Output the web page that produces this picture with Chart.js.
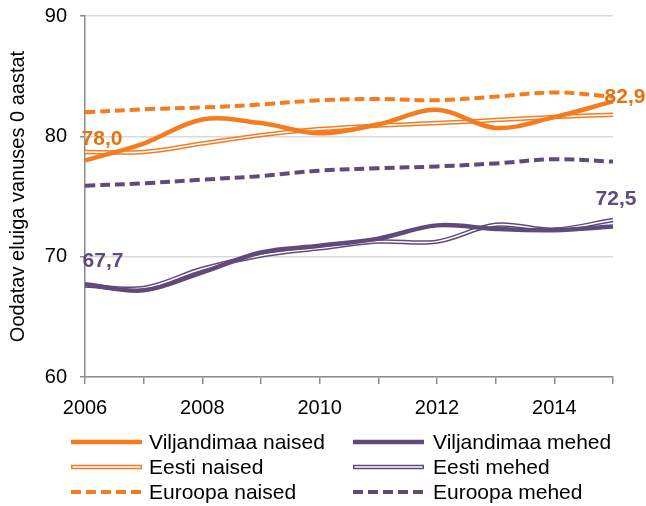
<!DOCTYPE html>
<html><head><meta charset="utf-8">
<script src="https://cdn.jsdelivr.net/npm/chart.js@4"></script>
<style>html,body{margin:0;padding:0;background:#fff}#wrap{width:646px;height:506px;position:relative}</style>
</head><body><div id="wrap"><canvas id="c"></canvas></div>
<script>
const years = ['2006','2007','2008','2009','2010','2011','2012','2013','2014','2015'];
const viljandimaaNaised = [78.0, 79.4, 81.4, 81.1, 80.25, 81.0, 82.2, 80.7, 81.6, 82.9];
const eestiNaised       = [78.7, 78.7, 79.4, 80.1, 80.6, 80.9, 81.1, 81.35, 81.6, 81.8];
const euroopaNaised     = [82.0, 82.25, 82.4, 82.65, 83.0, 83.1, 83.0, 83.3, 83.65, 83.3];
const viljandimaaMehed  = [67.7, 67.2, 68.7, 70.35, 70.9, 71.5, 72.6, 72.3, 72.2, 72.5];
const eestiMehed        = [67.6, 67.4, 69.0, 70.1, 70.7, 71.25, 71.25, 72.65, 72.25, 73.05];
const euroopaMehed      = [75.9, 76.1, 76.4, 76.7, 77.15, 77.35, 77.5, 77.75, 78.1, 77.9];
const yTicks = [60, 70, 80, 90];
const yTitle = 'Oodatav eluiga vanuses 0 aastat';

const ORANGE = '#F47B20';
const ORANGE_TXT = '#E8700E';
const PURPLE = '#604A7B';
const FONT = '"Liberation Sans", Arial, sans-serif';

function ds(label, data, color, kind, order) {
  const base = {label, data, borderColor: color, backgroundColor: color, pointRadius: 0,
    fill: false, tension: 0.35, order, kind, borderCapStyle: 'butt'};
  if (kind === 'solid') base.borderWidth = 4.5;
  if (kind === 'double') base.borderWidth = 4.5;
  if (kind === 'dash') { base.borderWidth = 4; base.borderDash = [10, 5]; }
  if (kind === 'inner') { base.borderWidth = 1.5; base.borderColor = '#ffffff'; }
  return base;
}

const datasets = [
  ds('Viljandimaa naised', viljandimaaNaised, ORANGE, 'solid', 1),
  ds('Viljandimaa mehed', viljandimaaMehed, PURPLE, 'solid', 2),
  ds('Eesti naised', eestiNaised, ORANGE, 'double', 6),
  ds('', eestiNaised, ORANGE, 'inner', 5),
  ds('Eesti mehed', eestiMehed, PURPLE, 'double', 4),
  ds('', eestiMehed, PURPLE, 'inner', 3),
  ds('Euroopa naised', euroopaNaised, ORANGE, 'dash', 7),
  ds('Euroopa mehed', euroopaMehed, PURPLE, 'dash', 8)
];

const legendOrder = ['Viljandimaa naised','Viljandimaa mehed','Eesti naised','Eesti mehed','Euroopa naised','Euroopa mehed'];

const customLegend = {
  id: 'customLegend',
  afterDraw(chart) {
    const ctx = chart.ctx;
    const colX = [71, 353];
    const textX = [149, 433];
    const rowY = [442, 467, 492];
    const lineLen = 71;
    ctx.save();
    ctx.font = '21px ' + FONT;
    ctx.textBaseline = 'middle';
    ctx.fillStyle = '#000';
    legendOrder.forEach((name, i) => {
      const d = chart.data.datasets.find(x => x.label === name);
      const c = i % 2;
      const x = colX[c], y = rowY[Math.floor(i / 2)];
      ctx.save();
      ctx.lineCap = 'butt';
      ctx.strokeStyle = d.borderColor;
      ctx.lineWidth = d.borderWidth;
      ctx.setLineDash(d.borderDash || []);
      ctx.beginPath(); ctx.moveTo(x, y); ctx.lineTo(x + lineLen, y); ctx.stroke();
      if (d.kind === 'double') {
        ctx.strokeStyle = '#fff'; ctx.lineWidth = 1.5;
        ctx.beginPath(); ctx.moveTo(x + 1.5, y); ctx.lineTo(x + lineLen - 1.5, y); ctx.stroke();
      }
      ctx.restore();
      ctx.fillText(name, textX[c], y + 1);
    });
    ctx.restore();
  }
};

const endLabels = {
  id: 'endLabels',
  afterDatasetsDraw(chart) {
    const ctx = chart.ctx;
    const xs = chart.scales.x, ys = chart.scales.y;
    const items = [
      {data: viljandimaaNaised, idx: 0, color: ORANGE_TXT, dx: 17, dy: -21},
      {data: viljandimaaNaised, idx: 9, color: ORANGE_TXT, dx: 12, dy: -4},
      {data: viljandimaaMehed, idx: 0, color: PURPLE, dx: 18, dy: -23},
      {data: viljandimaaMehed, idx: 9, color: PURPLE, dx: 3, dy: -27}
    ];
    ctx.save();
    ctx.font = 'bold 21px ' + FONT;
    ctx.textAlign = 'center';
    ctx.textBaseline = 'middle';
    items.forEach(it => {
      const v = it.data[it.idx];
      const px = xs.getPixelForValue(it.idx) + it.dx;
      const py = ys.getPixelForValue(v) + it.dy;
      ctx.fillStyle = it.color;
      ctx.fillText(v.toFixed(1).replace('.', ','), px, py);
    });
    ctx.restore();
  }
};

new Chart(document.getElementById('c'), {
  type: 'line',
  data: {labels: years, datasets},
  options: {
    responsive: true,
    maintainAspectRatio: false,
    animation: false,
    layout: {padding: {top: 16, right: 33, left: 0, bottom: 0}},
    plugins: {legend: {display: false}, tooltip: {enabled: false}},
    scales: {
      x: {
        type: 'category',
        offset: false,
        grid: {drawOnChartArea: false, drawTicks: true, tickLength: 7, color: '#8c8c8c', lineWidth: 1.5},
        border: {color: '#8c8c8c', width: 1.5},
        ticks: {
          autoSkip: false, maxRotation: 0, padding: 12,
          color: '#000', font: {size: 20, family: FONT},
          callback: function(v, i) { return i % 2 === 0 ? this.getLabelForValue(v) : ''; }
        },
        afterFit(s) { s.height = 129; }
      },
      y: {
        min: 60, max: 90,
        afterBuildTicks(s) { s.ticks = yTicks.map(v => ({value: v})); },
        grid: {color: '#d9d9d9', lineWidth: 1.5, tickColor: '#8c8c8c', tickLength: 5},
        border: {color: '#8c8c8c', width: 1.5},
        ticks: {color: '#000', font: {size: 20, family: FONT}, padding: 13},
        title: {display: true, text: yTitle, color: '#000', font: {size: 20, family: FONT}, padding: {top: 6, bottom: 4}},
        afterFit(s) { s.width = 85; s.paddingTop = 0; s.paddingBottom = 0; }
      }
    }
  },
  plugins: [endLabels, customLegend]
});
</script>
</body></html>
